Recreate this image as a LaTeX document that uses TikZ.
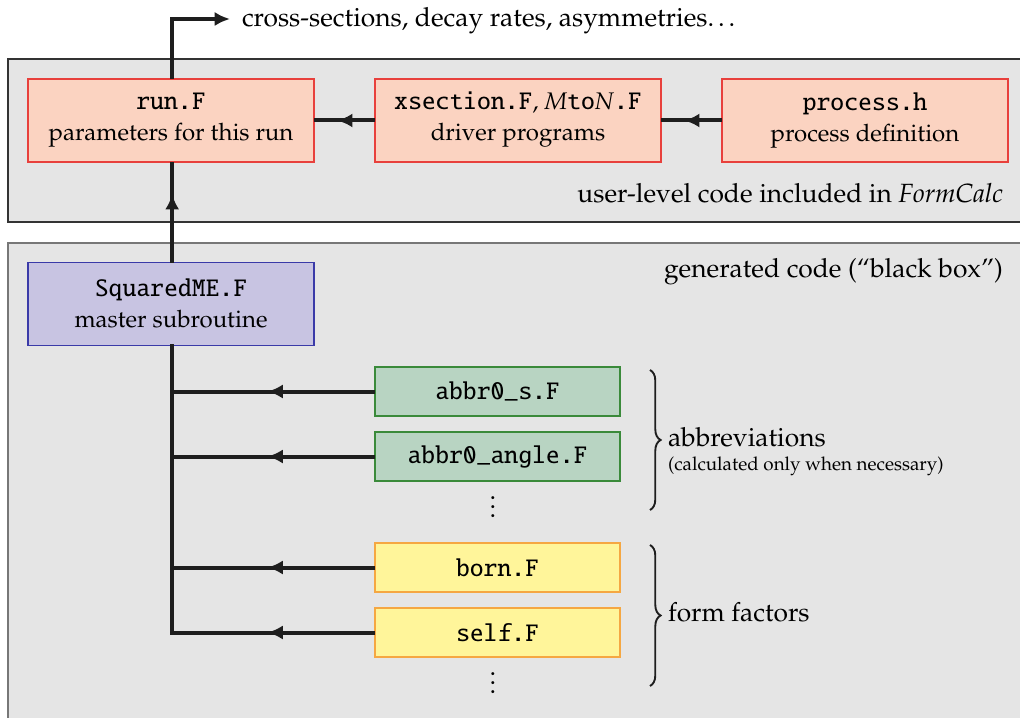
\documentclass[tikz,border=0pt]{standalone}
\usepackage[T1]{fontenc}
\usepackage{mathpazo}
\renewcommand{\ttdefault}{txtt}
\usetikzlibrary{arrows.meta,decorations.markings,decorations.pathreplacing}
\definecolor{panelfill}{HTML}{E5E5E5}
\definecolor{panelline}{HTML}{333333}
\definecolor{panelline2}{HTML}{777777}
\definecolor{userfill}{HTML}{FBD3C1}
\definecolor{userline}{HTML}{E8403C}
\definecolor{masterfill}{HTML}{C8C4E2}
\definecolor{masterline}{HTML}{3A3AA8}
\definecolor{abbrfill}{HTML}{B8D4C2}
\definecolor{abbrline}{HTML}{3A8A3A}
\definecolor{fffill}{HTML}{FFF59A}
\definecolor{ffline}{HTML}{F5A742}
\definecolor{conn}{HTML}{1E1E1E}
\newcommand{\basefont}{\fontsize{11.2pt}{13.2pt}\selectfont}
\newcommand{\boxfont}{\fontsize{10.2pt}{13.2pt}\selectfont}
\newcommand{\code}[1]{{\fontsize{11.2pt}{13.2pt}\selectfont\ttfamily #1}}
\begin{document}
\begin{tikzpicture}[x=0.425pt,y=-0.425pt,
  every node/.style={inner sep=0pt,outer sep=0pt,font=\basefont},
  bigbox/.style={draw,line width=0.5pt,minimum width=286*0.425pt,minimum height=83*0.425pt,align=center,font=\boxfont},
  smallbox/.style={draw,line width=0.5pt,minimum width=245*0.425pt,minimum height=49*0.425pt,align=center},
  userbox/.style={bigbox,fill=userfill,draw=userline},
  masterbox/.style={bigbox,fill=masterfill,draw=masterline},
  abbrbox/.style={smallbox,fill=abbrfill,draw=abbrline},
  ffbox/.style={smallbox,fill=fffill,draw=ffline},
  wire/.style={draw=conn,line width=1.7pt},
  midarrow/.style={wire,decoration={markings,mark=at position #1 with {\arrow{Latex[length=6.5pt,width=6pt]}}},postaction={decorate}},
  midarrow/.default=0.5,
  endarrow/.style={wire,-{Latex[length=6.5pt,width=6pt]}},
  bracestyle/.style={draw=conn,line width=0.8pt,decorate,decoration={brace,amplitude=4.5pt}},
  label/.style={anchor=west,align=left}
]
\useasboundingbox (0,0) rectangle (1020,718);
% panels
\fill[panelfill] (8,59) rectangle (1020,222);
\draw[panelline,line width=0.6pt] (1020,59) -- (8,59) -- (8,222) -- (1020,222);
\fill[panelfill] (8,243) rectangle (1020,718);
\draw[panelline2,line width=0.8pt] (1020,243) -- (8,243) -- (8,718);

% user-level boxes
\node[userbox] (run) at (171,120.5) {\code{run.F}\\parameters for this run};
\node[userbox] (xsec) at (518,120.5) {\code{xsection.F}, \textit{M}\code{to}\textit{N}\code{.F}\\driver programs};
\node[userbox] (proc) at (865,120.5) {\code{process.h}\\process definition};
\node[anchor=base east] (userlbl) at (1003,203) {user-level code included in \textit{FormCalc}};

% generated
\node[anchor=base east] (genlbl) at (1003,277) {generated code (``black box'')};
\node[masterbox] (sq) at (171,304) {\code{SquaredME.F}\\master subroutine};

\node[abbrbox] (a1) at (497.5,391.5) {\code{abbr0\_s.F}};
\node[abbrbox] (a2) at (497.5,456.5) {\code{abbr0\_angle.F}};
\node (d1) at (493,500) {$\vdots$};
\node[ffbox] (f1) at (497.5,567.5) {\code{born.F}};
\node[ffbox] (f2) at (497.5,632.5) {\code{self.F}};
\node (d2) at (493,676) {$\vdots$};

% braces
\coordinate (b1t) at (650,370);
\coordinate (b1b) at (650,510);
\coordinate (b2t) at (650,545);
\coordinate (b2b) at (650,686);
\draw[bracestyle] (b1t) -- (b1b);
\draw[bracestyle] (b2t) -- (b2b);
\node[label,anchor=base west] (abl) at (668,446) {abbreviations};
\node[label,anchor=base west,font=\footnotesize] (abl2) at (668,470) {(calculated only when necessary)};
\node[label] (ffl) at (668,612) {form factors};

% top output
\node[anchor=base west] (out) at (242,27) {cross-sections, decay rates, asymmetries\dots};
\coordinate (corner) at (172,19);
\coordinate (tip) at (230,19);
\draw[endarrow] ([xshift=0.5pt]run.north) -- ([xshift=0.5pt]run.north |- corner) -- (tip);

% arrows in user panel
\draw[midarrow=0.62] (proc.west) -- (xsec.east);
\draw[midarrow=0.62] (xsec.west) -- (run.east);
\draw[midarrow=0.68] ([xshift=0.5pt]sq.north) -- ([xshift=0.5pt]run.south);

% tree from master
\coordinate (j1) at ([xshift=0.5pt]sq.south |- a1.west);
\coordinate (j2) at ([xshift=0.5pt]sq.south |- a2.west);
\coordinate (j3) at ([xshift=0.5pt]sq.south |- f1.west);
\coordinate (j4) at ([xshift=0.5pt]sq.south |- f2.west);
\draw[wire,line cap=rect] ([xshift=0.5pt]sq.south) -- (j4);
\draw[midarrow=0.53] (a1.west) -- (j1);
\draw[midarrow=0.53] (a2.west) -- (j2);
\draw[midarrow=0.53] (f1.west) -- (j3);
\draw[midarrow=0.53] (f2.west) -- (j4);
\end{tikzpicture}
\end{document}
